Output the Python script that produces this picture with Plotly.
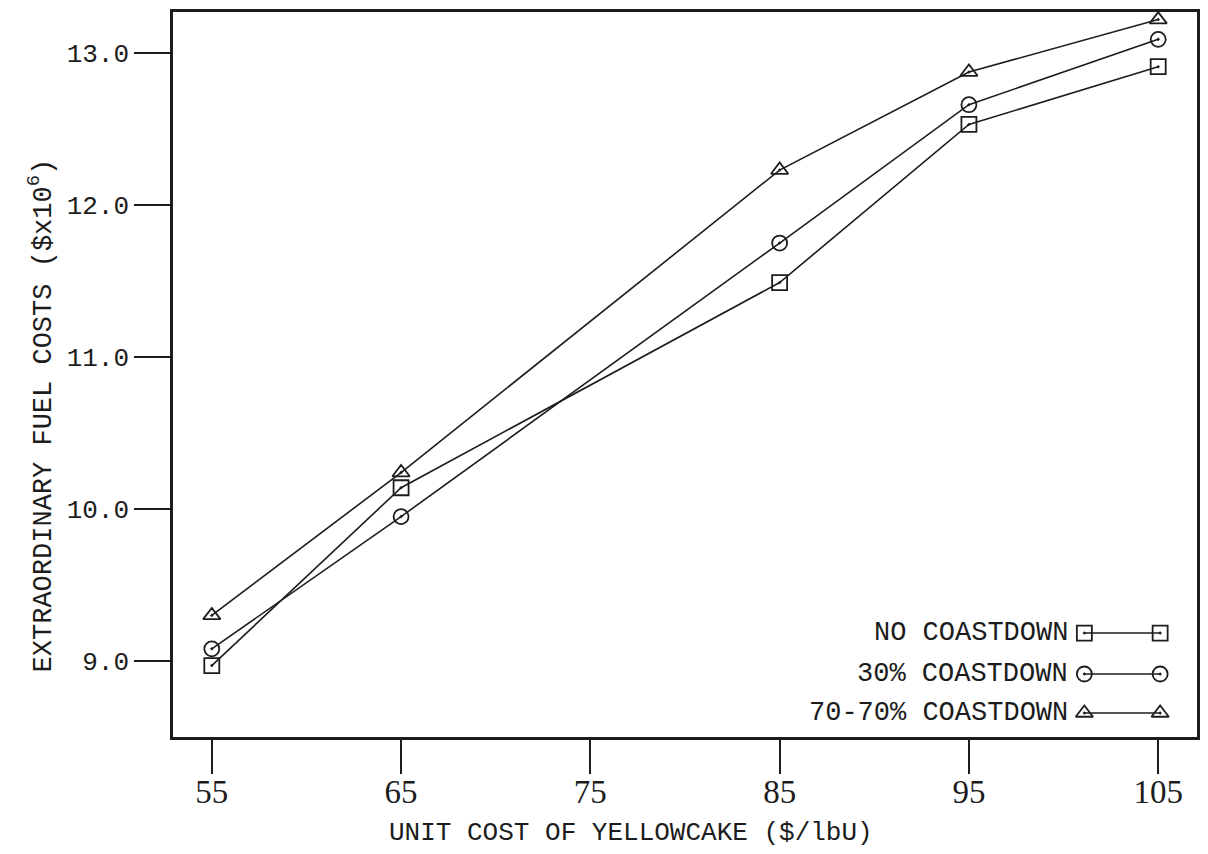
import plotly.graph_objects as go

# Unit cost of yellowcake ($/lbU)
unit_cost = [55, 65, 85, 95, 105]

# Extraordinary fuel costs ($ x 10^6)
no_coastdown = [8.97, 10.14, 11.49, 12.53, 12.91]
coastdown_30 = [9.08, 9.95, 11.75, 12.66, 13.09]
coastdown_70_70 = [9.30, 10.24, 12.23, 12.875, 13.22]

series_names = ["NO COASTDOWN", "30% COASTDOWN", "70-70% COASTDOWN"]
series_symbols = ["square-open-dot", "circle-open-dot", "triangle-up-open-dot"]
series_values = [no_coastdown, coastdown_30, coastdown_70_70]

x_ticks = [55, 65, 75, 85, 95, 105]
y_ticks = [9.0, 10.0, 11.0, 12.0, 13.0]
y_tick_text = ["9.0", "10.0", "11.0", "12.0", "13.0"]

INK = "#1c1c1c"
MONO = "Liberation Mono, Courier New, monospace"
SERIF = "Liberation Serif, DejaVu Serif, serif"

# Plot-area geometry (pixels)
W, H = 1208, 854
M_L, M_R, M_T, M_B = 173, 8, 12, 117
PLOT_W, PLOT_H = W - M_L - M_R, H - M_T - M_B


def px_to_paper(px, py):
    return (px - M_L) / PLOT_W, (H - M_B - py) / PLOT_H


fig = go.Figure()

for name, sym, vals in zip(series_names, series_symbols, series_values):
    fig.add_trace(go.Scatter(
        x=unit_cost, y=vals, mode="lines+markers", name=name,
        line=dict(color=INK, width=1.6),
        marker=dict(symbol=sym, size=15, color=INK, line=dict(width=1.8, color=INK)),
        showlegend=False,
    ))

# Hand-built key in the lower right: label, then symbol-line-symbol
key_rows = [0.1434, 0.0869, 0.0331]
for name, sym, ky in zip(series_names, series_symbols, key_rows):
    fig.add_trace(go.Scatter(
        x=[0.890, 0.964], y=[ky, ky], xaxis="x2", yaxis="y2",
        mode="lines+markers", showlegend=False, hoverinfo="skip",
        line=dict(color=INK, width=1.6),
        marker=dict(symbol=sym, size=15, color=INK, line=dict(width=1.8, color=INK)),
    ))
    fig.add_annotation(
        x=0.876, y=ky, xref="x2", yref="y2", text=name, showarrow=False,
        xanchor="right", yanchor="middle",
        font=dict(family=MONO, size=27, color=INK),
    )

fig.update_layout(
    width=W, height=H,
    paper_bgcolor="white", plot_bgcolor="white",
    margin=dict(l=M_L, r=M_R, t=M_T, b=M_B),
    xaxis=dict(
        range=[52.95, 107.05], tickvals=x_ticks,
        ticks="outside", ticklen=34, tickwidth=2, tickcolor=INK,
        showline=True, linewidth=2.5, linecolor=INK, mirror=True,
        showgrid=False, zeroline=False, ticklabelstandoff=-10,
        tickfont=dict(family=SERIF, size=33, color=INK),
    ),
    yaxis=dict(
        range=[8.5, 13.27], tickvals=y_ticks, ticktext=y_tick_text,
        ticks="outside", ticklen=36, tickwidth=2, tickcolor=INK,
        showline=True, linewidth=2.5, linecolor=INK, mirror=True,
        showgrid=False, zeroline=False,
        tickfont=dict(family=MONO, size=26, color=INK),
    ),
    xaxis2=dict(range=[0, 1], overlaying="x", visible=False, fixedrange=True),
    yaxis2=dict(range=[0, 1], overlaying="y", visible=False, fixedrange=True),
    showlegend=False,
)

# Axis titles
tx, ty = px_to_paper(632, 833)
fig.add_annotation(
    x=tx, y=ty, xref="paper", yref="paper", text="UNIT COST OF YELLOWCAKE ($/lbU)",
    showarrow=False, xanchor="center", yanchor="middle",
    font=dict(family=MONO, size=26, color=INK),
)
tx, ty = px_to_paper(40, 415)
fig.add_annotation(
    x=tx, y=ty, xref="paper", yref="paper",
    text="EXTRAORDINARY FUEL COSTS ($x10<sup>6</sup>)", textangle=-90,
    showarrow=False, xanchor="center", yanchor="middle",
    font=dict(family=MONO, size=27, color=INK),
)

fig.write_html("out.html")
